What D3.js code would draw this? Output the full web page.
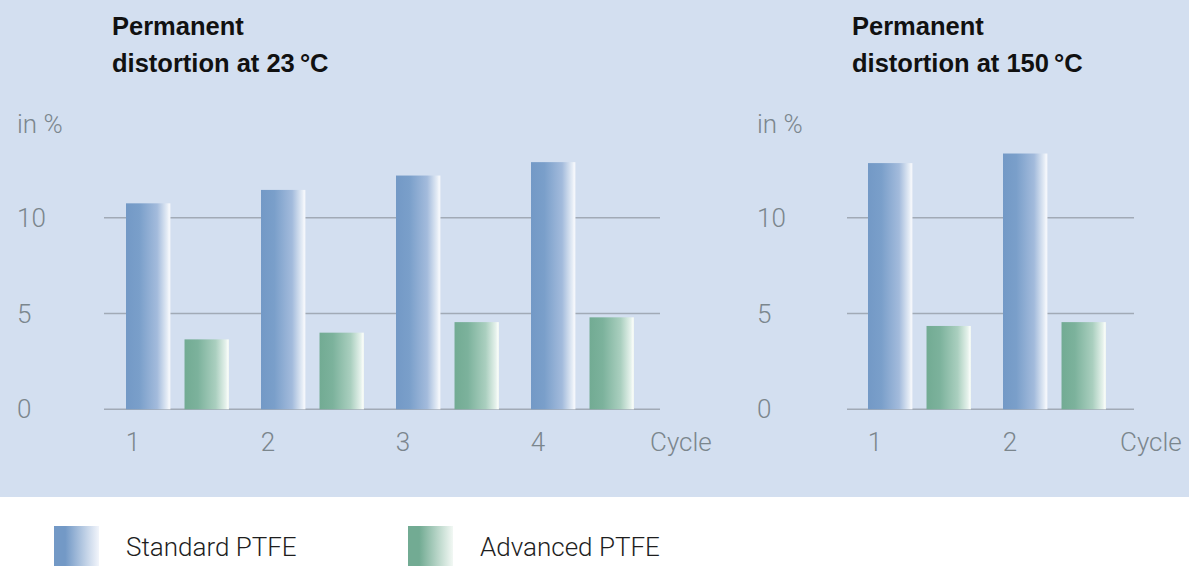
<!DOCTYPE html>
<html lang="en">
<head>
    <meta charset="UTF-8">
    <title>Permanent distortion</title>
    <script src="https://d3js.org/d3.v7.min.js"></script>
    <style>
        body { margin: 0; background: #fff; }
        svg { display: block; }
    </style>
</head>
<body>
    <script>
        // data
        var series = ["Standard PTFE", "Advanced PTFE"];
        var cycles23 = ["1", "2", "3", "4"];
        var standard23 = [10.75, 11.45, 12.2, 12.9];
        var advanced23 = [3.65, 4.0, 4.55, 4.8];
        var cycles150 = ["1", "2"];
        var standard150 = [12.85, 13.35];
        var advanced150 = [4.35, 4.55];
        var yTicks = [0, 5, 10];

        var width = 1189, height = 566;
        var bg = "#d3dff0";
        var axisColor = "#7b868d";
        var lightFont = "Roboto, 'Liberation Sans', sans-serif";
        var axisSize = 26;

        var svg = d3.select("body").append("svg")
            .attr("width", width)
            .attr("height", height);

        // gradients for the bars
        var defs = svg.append("defs");
        var grads = [
            { id: "gradStd", stops: [["0%", "#7399c6"], ["30%", "#7a9fca"], ["70%", "#a3bbdc"], ["93%", "#e6edf6"], ["97%", "#f6f8fc"], ["100%", "#eef2f8"]] },
            { id: "gradAdv", stops: [["0%", "#72ab93"], ["30%", "#7cb29c"], ["70%", "#aacfbf"], ["93%", "#e6f2ec"], ["97%", "#f7fbf8"], ["100%", "#eef6f1"]] }
        ];
        grads.forEach(function(g) {
            var lg = defs.append("linearGradient").attr("id", g.id)
                .attr("x1", "0%").attr("x2", "100%").attr("y1", "0%").attr("y2", "0%");
            g.stops.forEach(function(s) {
                lg.append("stop").attr("offset", s[0]).attr("stop-color", s[1]);
            });
        });
        var color = d3.scaleOrdinal().domain(series).range(["url(#gradStd)", "url(#gradAdv)"]);
        var legendColor = d3.scaleOrdinal().domain(series).range(["url(#gradStdL)", "url(#gradAdvL)"]);

        // legend gradients (no white edge)
        [["gradStdL", "#7399c6", "#f2f5fb"], ["gradAdvL", "#72ab93", "#f2f8f4"]].forEach(function(g) {
            var lg = defs.append("linearGradient").attr("id", g[0]);
            lg.append("stop").attr("offset", "0%").attr("stop-color", g[1]);
            lg.append("stop").attr("offset", "25%").attr("stop-color", g[1]);
            lg.append("stop").attr("offset", "100%").attr("stop-color", g[2]);
        });

        // background panel
        svg.append("rect")
            .attr("x", 0).attr("y", 0)
            .attr("width", width).attr("height", 497)
            .attr("fill", bg);

        var y = d3.scaleLinear().domain([0, 10]).range([409.3, 217.7]);

        function drawChart(opts) {
            var g = svg.append("g");

            // title
            var title = g.append("text")
                .attr("font-family", "'Liberation Sans', Arial, sans-serif")
                .attr("font-weight", "bold")
                .attr("font-size", 25.5)
                .attr("fill", "#111");
            title.append("tspan").attr("x", opts.titleX).attr("y", 35).text("Permanent");
            title.append("tspan").attr("x", opts.titleX).attr("y", 72).text(opts.subtitle);

            // gridlines
            g.selectAll(".grid")
                .data(yTicks)
                .enter().append("line")
                .attr("x1", opts.gridX0).attr("x2", opts.gridX1)
                .attr("y1", function(d) { return y(d); })
                .attr("y2", function(d) { return y(d); })
                .attr("stroke", "#a1aab6")
                .attr("stroke-width", 1.5);

            // y labels
            g.selectAll(".ylab")
                .data(yTicks)
                .enter().append("text")
                .attr("x", opts.labelX)
                .attr("y", function(d) { return y(d) + 9; })
                .attr("font-family", lightFont)
                .attr("font-weight", 300)
                .attr("font-size", axisSize)
                .attr("fill", axisColor)
                .text(function(d) { return d; });

            g.append("text")
                .attr("x", opts.labelX).attr("y", 133)
                .attr("font-family", lightFont)
                .attr("font-weight", 300)
                .attr("font-size", axisSize)
                .attr("fill", axisColor)
                .text("in %");

            // bars
            var x0 = d3.scaleBand().domain(opts.cycles)
                .range([opts.barX0, opts.barX0 + opts.cycles.length * 135]);
            var x1 = d3.scaleBand().domain(series).range([0, 103]).paddingInner(0.24);

            var rows = opts.cycles.map(function(c, i) {
                return { cycle: c, values: [
                    { key: series[0], value: opts.standard[i] },
                    { key: series[1], value: opts.advanced[i] }
                ] };
            });

            var groups = g.selectAll(".cyc")
                .data(rows)
                .enter().append("g")
                .attr("transform", function(d) { return "translate(" + x0(d.cycle) + ",0)"; });

            groups.selectAll("rect")
                .data(function(d) { return d.values; })
                .enter().append("rect")
                .attr("x", function(d) { return x1(d.key); })
                .attr("y", function(d) { return y(d.value); })
                .attr("width", x1.bandwidth())
                .attr("height", function(d) { return y(0) - y(d.value); })
                .attr("fill", function(d) { return color(d.key); });

            // x labels
            g.selectAll(".xlab")
                .data(opts.cycles)
                .enter().append("text")
                .attr("x", function(d) { return x0(d) + 7; })
                .attr("y", 451)
                .attr("text-anchor", "middle")
                .attr("font-family", lightFont)
                .attr("font-weight", 300)
                .attr("font-size", axisSize)
                .attr("fill", axisColor)
                .text(function(d) { return d; });

            g.append("text")
                .attr("x", opts.cycleX).attr("y", 451)
                .attr("font-family", lightFont)
                .attr("font-weight", 300)
                .attr("font-size", axisSize)
                .attr("fill", axisColor)
                .text("Cycle");
        }

        drawChart({
            titleX: 112, subtitle: "distortion at 23\u2009°C",
            gridX0: 104, gridX1: 660, labelX: 17,
            barX0: 126, cycles: cycles23, standard: standard23, advanced: advanced23,
            cycleX: 650
        });

        drawChart({
            titleX: 852, subtitle: "distortion at 150\u2009°C",
            gridX0: 847, gridX1: 1134, labelX: 757,
            barX0: 868, cycles: cycles150, standard: standard150, advanced: advanced150,
            cycleX: 1120
        });

        // legend
        var legendX = d3.scaleOrdinal().domain(series).range([54, 408]);
        var legend = svg.append("g");
        var items = legend.selectAll("g")
            .data(series)
            .enter().append("g")
            .attr("transform", function(d) { return "translate(" + legendX(d) + ",526)"; });
        items.append("rect")
            .attr("width", 45).attr("height", 45)
            .attr("fill", function(d) { return legendColor(d); });
        items.append("text")
            .attr("x", 72).attr("y", 30)
            .attr("font-family", lightFont)
            .attr("font-weight", 300)
            .attr("font-size", 26)
            .attr("fill", "#1e1e1e")
            .text(function(d) { return d; });
    </script>
</body>
</html>
